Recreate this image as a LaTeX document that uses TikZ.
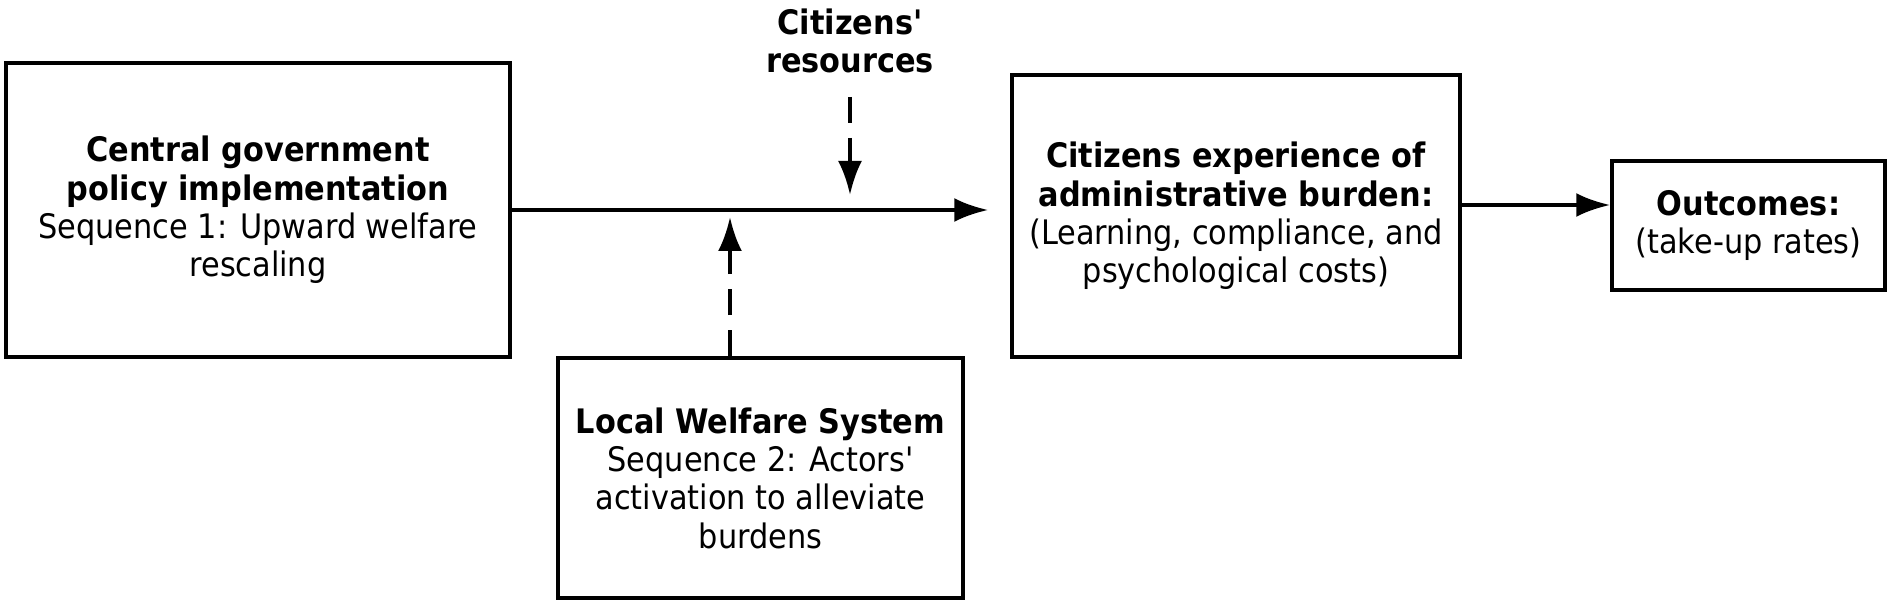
\documentclass[tikz,border=0pt]{standalone}
\usepackage{fontspec}
\setmainfont{DejaVu Sans Condensed}
\usetikzlibrary{arrows.meta,positioning}
\tikzset{>={Latex[length=3.4mm,width=2.4mm]}}
\tikzset{
  box/.style={draw, line width=1pt, align=center, inner sep=0pt,
    font=\fontsize{9.6}{10.9}\selectfont},
  flow/.style={->, line width=1.2pt},
  dashflow/.style={->, line width=1.2pt, dash pattern=on 2.6mm off 1.5mm}
}

\begin{document}
\begin{tikzpicture}
      \useasboundingbox (0,0) rectangle (18.9,-6.04);
      % boxes
      \node[box, minimum width=5.04cm, minimum height=2.94cm] (gov) at (2.58,-2.10)
        {\textbf{Central government}\\ \textbf{policy implementation}\\ Sequence 1: Upward welfare\\ rescaling};
      \node[box, minimum width=4.48cm, minimum height=2.82cm] (exp) at (12.36,-2.16)
        {\textbf{Citizens experience of}\\ \textbf{administrative burden:}\\ (Learning, compliance, and\\ psychological costs)};
      \node[box, minimum width=4.05cm, minimum height=2.40cm] (loc) at (7.605,-4.78)
        {\textbf{Local Welfare System}\\ Sequence 2: Actors\textquotesingle\\ activation to alleviate\\ burdens};
      \node[box, minimum width=2.73cm, minimum height=1.29cm] (out) at (17.485,-2.255)
        {\textbf{Outcomes:}\\ (take-up rates)};
      \node[box, draw=none] (res) at (8.50,-0.41) {\textbf{Citizens\textquotesingle}\\ \textbf{resources}};
      % connectors
      \coordinate (m2) at (14.60,-2.05);
      \coordinate (tipdown) at (8.50,-1.95);
      \coordinate (tipup) at (7.30,-2.17);
      \draw[flow] (gov.east) -- ([xshift=-2.2mm]gov.east -| exp.west);
      \draw[flow] (m2) -- (m2 -| out.west);
      \draw[dashflow] ([yshift=-2.2mm]res.south -| tipdown) -- (tipdown);
      \draw[dashflow] (loc.north -| tipup) -- (tipup);
\end{tikzpicture}
\end{document}
